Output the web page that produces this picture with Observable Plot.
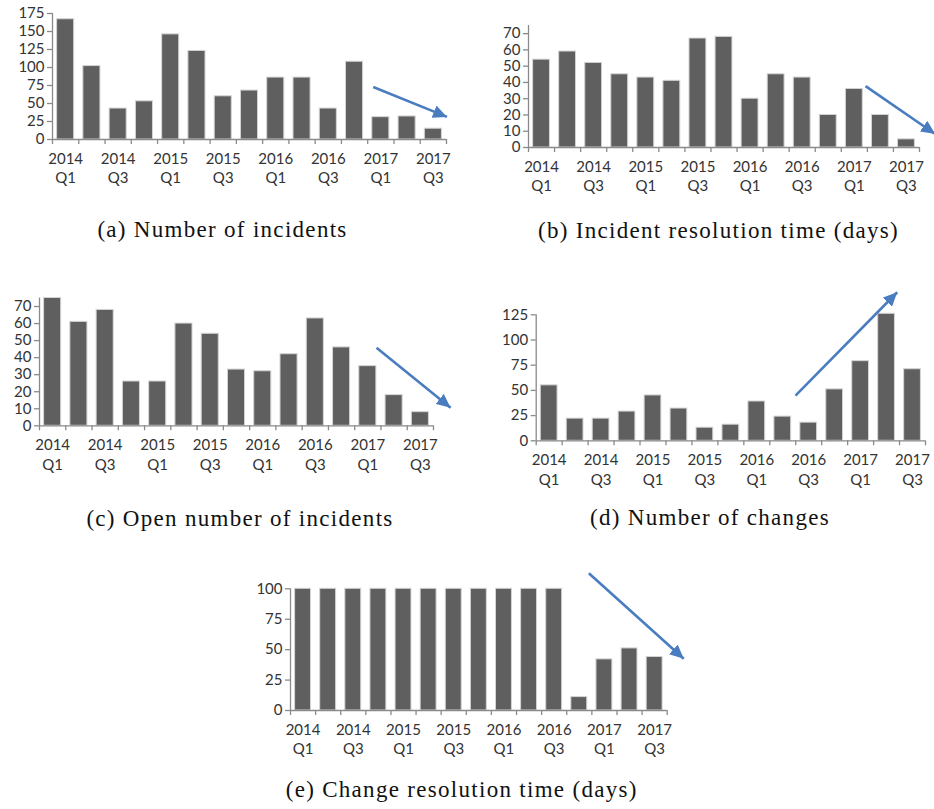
<!DOCTYPE html>
<html>
<head>
<meta charset="utf-8">
<script src="https://cdn.jsdelivr.net/npm/d3@7"></script>
<script src="https://cdn.jsdelivr.net/npm/@observablehq/plot@0.6"></script>
<style>
  body { margin: 0; background: #fff; }
  #page { position: relative; width: 934px; height: 809px; overflow: hidden; background: #fff; }
  .chart { position: absolute; }
  #captions { position: absolute; left: 0; top: 0; pointer-events: none; }
</style>
</head>
<body>
<div id="page"></div>
<script>
// ---- data ----
const quarters = ["2014 Q1","2014 Q2","2014 Q3","2014 Q4","2015 Q1","2015 Q2","2015 Q3","2015 Q4",
                  "2016 Q1","2016 Q2","2016 Q3","2016 Q4","2017 Q1","2017 Q2","2017 Q3"];
const tickLabels = ["2014\nQ1","2014\nQ3","2015\nQ1","2015\nQ3","2016\nQ1","2016\nQ3","2017\nQ1","2017\nQ3"];
const tickLabelQuarters = ["2014 Q1","2014 Q3","2015 Q1","2015 Q3","2016 Q1","2016 Q3","2017 Q1","2017 Q3"];

const incidents            = [167,102,43,53,146,123,60,68,86,86,43,108,31,32,15];
const incidentResolution   = [54,59,52,45,43,41,67,68,30,45,43,20,36,20,5];
const openIncidents        = [75,61,68,26,26,60,54,33,32,42,63,46,35,18,8];
const changes              = [55,22,22,29,45,32,13,16,39,24,18,51,79,126,71];
const changeResolution     = [100,100,100,100,100,100,100,100,100,100,100,11,42,51,44];

const yTicksA = [0,25,50,75,100,125,150,175];
const yTicksB = [0,10,20,30,40,50,60,70];
const yTicksC = [0,10,20,30,40,50,60,70];
const yTicksD = [0,25,50,75,100,125];
const yTicksE = [0,25,50,75,100];

// trend arrows in data units (x = quarter index, y = value)
const arrowA = [{x1: 12.21, y1: 73,    x2: 15.02, y2: 31.4}];
const arrowB = [{x1: 12.93, y1: 37.7,  x2: 15.6,  y2: 8.3}];
const arrowC = [{x1: 12.83, y1: 45.8,  x2: 15.65, y2: 10.6}];
const arrowD = [{x1: 9.99,  y1: 44.9,  x2: 13.91, y2: 147.4}];
const arrowE = [{x1: 11.88, y1: 112.8, x2: 15.66, y2: 42.5}];

const captions = ["(a) Number of incidents", "(b) Incident resolution time (days)",
                  "(c) Open number of incidents", "(d) Number of changes",
                  "(e) Change resolution time (days)"];

// ---- layout / style ----
const BAR = "#5f5f5f", BAR_EDGE = "#d4d4d4", AXIS = "#8a8a8a", TEXT = "#333333", ARROW = "#4a7dbf";

const panels = [
  {values: incidents,          ticks: yTicksA, yMax: 175, arrow: arrowA, left: 0,   top: 0,   width: 467, height: 195, mL: 52,   mR: 21,   mT: 13,   mB: 56},
  {values: incidentResolution, ticks: yTicksB, yMax: 75,  arrow: arrowB, left: 467, top: 0,   width: 467, height: 195, mL: 61,   mR: 15,   mT: 25,   mB: 48},
  {values: openIncidents,      ticks: yTicksC, yMax: 75,  arrow: arrowC, left: 0,   top: 280, width: 467, height: 200, mL: 39,   mR: 34,   mT: 17.5, mB: 54.7},
  {values: changes,            ticks: yTicksD, yMax: 125, arrow: arrowD, left: 467, top: 280, width: 467, height: 200, mL: 68.7, mR: 9,    mT: 34.3, mB: 39.7},
  {values: changeResolution,   ticks: yTicksE, yMax: 100, arrow: arrowE, left: 230, top: 560, width: 470, height: 200, mL: 60,   mR: 33.3, mT: 28.3, mB: 50}
];
const captionPos = [
  {x: 222.5, y: 237}, {x: 718.5, y: 238}, {x: 240, y: 526}, {x: 710, y: 525}, {x: 461.7, y: 797}
];

const page = document.getElementById("page");

panels.forEach(p => {
  const rows = quarters.map((q, i) => ({q, i, v: p.values[i]}));
  const labelRows = tickLabelQuarters.map((q, k) => ({i: quarters.indexOf(q), label: tickLabels[k]}));
  const chart = Plot.plot({
    width: p.width, height: p.height,
    marginLeft: p.mL, marginRight: p.mR, marginTop: p.mT, marginBottom: p.mB,
    style: {fontFamily: "Lato, 'Liberation Sans', sans-serif", fontSize: "15px", background: "transparent", overflow: "visible"},
    x: {type: "linear", domain: [0, quarters.length]},
    y: {domain: [0, p.yMax]},
    marks: [
      Plot.ruleX([0], {stroke: AXIS, strokeWidth: 1.3}),
      Plot.axisY({ticks: p.ticks, tickSize: 5, tickPadding: 3, stroke: AXIS, fill: TEXT, strokeWidth: 1.3, label: null, fontSize: 15}),
      Plot.axisX({ticks: d3.range(quarters.length + 1), tickSize: 5, tickFormat: () => "", stroke: AXIS, strokeWidth: 1.3, label: null}),
      Plot.rectY(rows, {x1: d => d.i, x2: d => d.i + 1, y: "v", insetLeft: 4.6, insetRight: 4.6,
                        fill: BAR, stroke: BAR_EDGE, strokeWidth: 1}),
      Plot.ruleY([0], {stroke: AXIS, strokeWidth: 1.3}),
      Plot.text(labelRows, {x: d => d.i + 0.5, frameAnchor: "bottom", dy: 10, lineAnchor: "top",
                            lineHeight: 1.32, text: "label", fill: TEXT, fontSize: 15}),
      Plot.link(p.arrow, {x1: "x1", y1: "y1", x2: "x2", y2: "y2", stroke: ARROW, strokeWidth: 2.6,
                          strokeLinecap: "butt", markerEnd: "arrow"})
    ]
  });
  // turn the open arrow marker into a filled triangular head
  chart.querySelectorAll("marker").forEach(m => {
    m.setAttribute("viewBox", "-14 -6.5 14 13");
    m.setAttribute("markerUnits", "userSpaceOnUse");
    m.setAttribute("markerWidth", "14");
    m.setAttribute("markerHeight", "13");
    m.setAttribute("refX", "0");
    m.setAttribute("refY", "0");
    const path = m.querySelector("path");
    if (path) {
      path.setAttribute("d", "M-14,-6.5L0,0L-14,6.5Z");
      path.setAttribute("fill", ARROW);
      path.setAttribute("stroke", "none");
    }
  });
  const div = document.createElement("div");
  div.className = "chart";
  div.style.left = p.left + "px";
  div.style.top = p.top + "px";
  div.appendChild(chart);
  page.appendChild(div);
});

// captions as real SVG text
const svg = d3.create("svg").attr("id", "captions").attr("width", 934).attr("height", 809);
svg.selectAll("text").data(captions).join("text")
  .attr("x", (d, i) => captionPos[i].x)
  .attr("y", (d, i) => captionPos[i].y)
  .attr("text-anchor", "middle")
  .attr("font-family", "'Liberation Serif', 'DejaVu Serif', serif")
  .attr("font-size", 23)
  .attr("letter-spacing", "1.3px")
  .attr("fill", "#111")
  .text(d => d);
page.appendChild(svg.node());
</script>
</body>
</html>
